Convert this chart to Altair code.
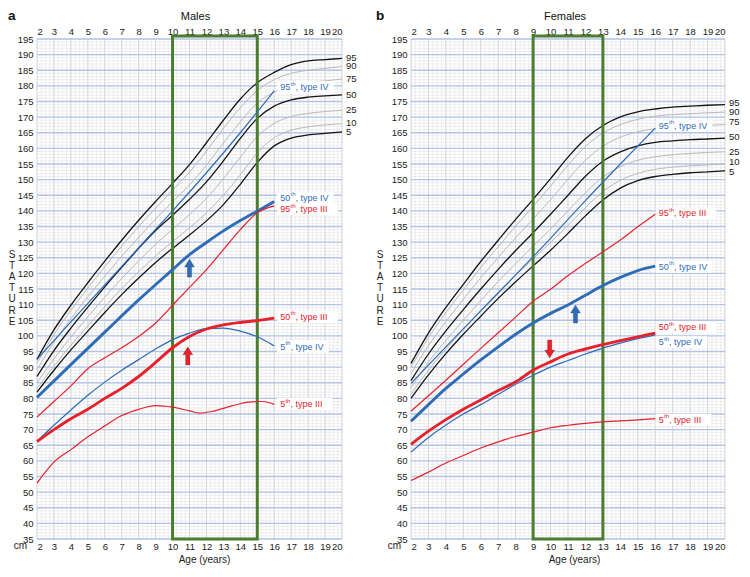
import altair as alt
import pandas as pd

FONT = "Liberation Sans"
BLUE = "#2f6cb8"
RED = "#e6212b"
GREEN = "#4b7d2e"

AGES = list(range(2, 21))
PCT_NAMES = ["5", "10", "25", "50", "75", "90", "95"]

# ---- Males: reference percentile curves (cm) at ages 2..20 ----
M_P5 = [82.0, 89.0, 95.5, 101.5, 107.5, 113.2, 118.5, 123.5, 128.0, 132.3, 136.8, 142.0, 148.5, 155.5, 160.8, 163.3, 164.3, 164.8, 165.3]
M_P10 = [83.2, 90.3, 97.0, 103.2, 109.3, 115.1, 120.5, 125.6, 130.2, 134.6, 139.4, 145.0, 151.5, 158.6, 163.4, 165.8, 166.9, 167.5, 167.9]
M_P25 = [85.0, 92.6, 99.6, 106.1, 112.4, 118.4, 124.0, 129.3, 134.1, 138.8, 144.0, 150.3, 157.2, 163.8, 168.0, 170.2, 171.2, 171.8, 172.2]
M_P50 = [87.0, 95.3, 102.5, 109.2, 115.7, 121.9, 128.0, 133.7, 138.6, 143.7, 149.3, 156.0, 163.2, 169.6, 173.5, 175.5, 176.4, 176.8, 177.1]
M_P75 = [89.2, 98.0, 105.5, 112.5, 119.1, 125.5, 131.5, 137.4, 142.9, 148.3, 154.6, 161.7, 168.5, 174.5, 178.0, 180.0, 181.0, 181.6, 182.2]
M_P90 = [91.2, 100.4, 108.2, 115.3, 122.1, 128.7, 135.0, 140.9, 146.6, 152.4, 159.1, 166.4, 173.0, 178.5, 182.0, 184.0, 185.0, 185.6, 186.2]
M_P95 = [92.5, 101.9, 109.8, 117.0, 123.9, 130.6, 137.0, 143.0, 148.8, 154.8, 161.8, 169.0, 175.8, 181.0, 184.3, 186.8, 188.0, 188.4, 188.8]

# ---- Females ----
F_P5 = [80.0, 87.5, 94.3, 100.5, 106.3, 112.0, 117.3, 122.4, 127.4, 132.8, 138.4, 143.5, 147.3, 149.7, 151.0, 151.7, 152.2, 152.5, 152.8]
F_P10 = [81.3, 89.0, 95.8, 102.1, 108.1, 114.0, 119.4, 124.7, 129.9, 135.4, 141.1, 146.2, 149.8, 152.0, 153.3, 154.0, 154.4, 154.7, 155.0]
F_P25 = [83.4, 91.6, 98.5, 105.0, 111.3, 117.4, 123.1, 128.7, 134.2, 140.0, 145.8, 150.8, 154.1, 156.2, 157.3, 158.0, 158.4, 158.7, 158.9]
F_P50 = [85.7, 94.2, 101.6, 108.4, 115.0, 121.3, 127.3, 133.0, 138.9, 145.0, 151.1, 155.9, 158.9, 160.8, 161.9, 162.4, 162.8, 163.0, 163.3]
F_P75 = [88.0, 96.9, 104.6, 111.7, 118.6, 125.1, 131.4, 137.4, 143.6, 150.1, 156.2, 160.7, 163.6, 165.3, 166.3, 166.9, 167.2, 167.4, 167.6]
F_P90 = [90.0, 99.4, 107.4, 114.7, 121.9, 128.6, 135.1, 141.4, 147.9, 154.6, 160.6, 164.9, 167.6, 169.3, 170.3, 170.8, 171.1, 171.4, 171.6]
F_P95 = [91.2, 100.9, 109.1, 116.5, 123.8, 130.6, 137.3, 143.7, 150.3, 157.2, 163.1, 167.3, 170.1, 171.7, 172.6, 173.2, 173.5, 173.8, 174.0]

# ---- Males: type III / type IV percentile curves ----
M95_IV_AGE = [2, 4, 6, 8, 10, 12, 14, 16]
M95_IV = [92.5, 104.5, 116.3, 128.2, 140.0, 152.2, 165.0, 178.4]
M50_IV_AGE = [2, 4, 6, 8, 10, 11, 12, 13, 14, 15, 16]
M50_IV = [80.3, 90.8, 101.2, 111.5, 121.2, 126.0, 129.9, 133.6, 136.9, 139.9, 143.0]
M_AGE_Y = [2, 3, 4, 5, 6, 7, 8, 9, 10, 11, 12, 13, 14, 15, 16]
M95_III = [74.0, 79.0, 84.0, 89.5, 93.0, 96.2, 99.8, 104.1, 109.8, 115.5, 121.2, 127.6, 134.0, 139.4, 141.6]
M50_III = [66.2, 70.0, 73.5, 76.5, 80.0, 83.2, 87.0, 91.5, 96.2, 99.8, 102.2, 103.5, 104.3, 104.9, 105.7]
M5_IV = [66.3, 71.4, 76.3, 81.0, 85.2, 89.0, 92.4, 95.8, 98.8, 100.9, 102.3, 102.5, 101.5, 99.7, 96.8]
M5_III_AGE = [2, 2.5, 3, 4, 5, 6, 7, 8, 9, 10, 11, 11.6, 12.3, 13.5, 14.5, 15.3, 16]
M5_III = [52.9, 56.5, 59.6, 63.6, 67.7, 71.2, 74.5, 76.5, 77.7, 77.2, 76.0, 75.3, 75.8, 77.6, 78.8, 79.0, 78.1]

# ---- Females: type III / type IV percentile curves ----
F95_IV_AGE = [2, 4, 6, 8, 10, 12, 14, 16]
F95_IV = [84.8, 96.5, 108.0, 119.5, 131.2, 143.3, 155.0, 166.5]
F_AGE_Y = [2, 3, 4, 5, 6, 7, 8, 9, 10, 11, 12, 13, 14, 15, 16]
F50_IV = [72.7, 78.0, 83.2, 87.8, 92.3, 96.5, 100.5, 104.1, 107.2, 109.9, 113.0, 116.1, 118.7, 120.9, 122.3]
F95_III_AGE = [2, 4, 6, 8, 9, 10, 11, 12, 13, 14, 15, 16]
F95_III = [75.9, 85.8, 96.0, 106.0, 111.1, 114.9, 119.3, 123.2, 126.9, 130.7, 134.9, 138.9]
F50_III = [65.3, 69.5, 73.2, 76.5, 79.5, 82.5, 85.3, 89.0, 91.7, 94.2, 95.8, 97.2, 98.5, 99.7, 100.9]
F5_IV = [62.8, 67.5, 71.5, 75.0, 78.0, 81.3, 84.5, 87.4, 90.0, 92.1, 94.2, 96.1, 97.7, 99.1, 100.3]
F5_III = [53.7, 56.4, 59.3, 61.7, 64.1, 66.1, 67.8, 69.2, 70.6, 71.4, 72.0, 72.5, 72.8, 73.1, 73.5]

# ---- curve labels ----
M_LAB_NUM = ["95", "50", "95", "50", "5", "5"]
M_LAB_TYPE = ["type IV", "type IV", "type III", "type III", "type IV", "type III"]
M_LAB_CM = [179.6, 144.2, 140.6, 106.1, 96.5, 78.2]
F_LAB_NUM = ["95", "95", "50", "50", "5", "5"]
F_LAB_TYPE = ["type IV", "type III", "type IV", "type III", "type IV", "type III"]
F_LAB_CM = [167.3, 139.2, 122.1, 102.7, 98.0, 73.2]

# ---- percentile names at the right edge (cm) ----
M_PCT_LAB_CM = [165.3, 168.0, 172.2, 177.1, 182.3, 186.3, 188.9]
F_PCT_LAB_CM = [152.4, 155.6, 159.0, 163.8, 168.5, 171.7, 174.4]

# ---- highlighted age windows ----
M_BOX = [10, 15]
F_BOX = [9, 13]

# ---- arrows (age, cm, type, direction) ----
M_ARROWS = [(11.0, 121.7, "type IV", "up"), (10.9, 93.6, "type III", "up")]
F_ARROWS = [(9.95, 95.8, "type III", "down"), (11.43, 107.0, "type IV", "up")]

ARROW_PATH = "M-0.24,1L-0.24,-0.12L-0.55,-0.12L0,-1L0.55,-0.12L0.24,-0.12L0.24,1Z"
CSCALE = alt.Scale(domain=["type III", "type IV"], range=[RED, BLUE])
FS = 9
AX_FS = 9.5


def pct_frame(pvals):
    rows = []
    for name, vals in zip(PCT_NAMES, pvals):
        for a, v in zip(AGES, vals):
            rows.append({"age": a, "cm": v, "pct": name, "main": name in ("5", "50", "95")})
    return pd.DataFrame(rows)


def type_frame(curves):
    rows = []
    for num, typ, ages, vals in curves:
        for a, v in zip(ages, vals):
            rows.append({"age": a, "cm": v, "curve": num + " " + typ, "typ": typ,
                         "w": "thick" if num == "50" else "thin"})
    return pd.DataFrame(rows)


def panel(title, title_dx, letter, letter_x, stat_x, pvals, pct_lab_cm, curves, lab_num, lab_type,
          lab_cm, lab_age, box, arrows, w, h, title_x):
    ppy = w / 18.0
    cmpp = 160.0 / h
    xs = alt.Scale(domain=[2, 20], nice=False, zero=False)
    ys = alt.Scale(domain=[35, 195], nice=False, zero=False)
    nx = alt.X("age:Q", scale=xs, axis=None)
    ny = alt.Y("cm:Q", scale=ys, axis=None)

    quarter = pd.DataFrame({"age": [2 + 0.25 * i for i in range(73)]})
    years = pd.DataFrame({"age": AGES})
    cm1 = pd.DataFrame({"cm": list(range(35, 196))})
    cm5 = pd.DataFrame({"cm": list(range(35, 196, 5))})

    layers = []
    layers.append(alt.Chart(quarter).mark_rule(color="#e4e4e4", strokeWidth=0.6).encode(
        x=alt.X("age:Q", scale=xs, axis=alt.Axis(orient="top", values=AGES, title=None, grid=False,
                                                  ticks=False, domain=False, labelPadding=3,
                                                  labelFontSize=AX_FS))))
    layers.append(alt.Chart(cm1).mark_rule(color="#e2e2e2", strokeWidth=0.6).encode(
        y=alt.Y("cm:Q", scale=ys, axis=alt.Axis(orient="left", values=list(range(35, 196, 5)), title=None,
                                                grid=False, ticks=False, domain=False, labelPadding=4,
                                                labelFontSize=AX_FS))))
    layers.append(alt.Chart(years).mark_rule(color="#cdd2da", strokeWidth=0.8).encode(
        x=alt.X("age:Q", scale=xs, axis=alt.Axis(orient="bottom", values=AGES, title="Age (years)",
                                                  grid=False, ticks=False, domain=False,
                                                  labelPadding=2, titlePadding=4, labelFontSize=AX_FS,
                                                  titleFontSize=10, titleFontWeight="normal",
                                                  titleX=title_x, titleAlign="center"))))
    layers.append(alt.Chart(cm5).mark_rule(color="#b3c4e6", strokeWidth=1.4).encode(y=ny))

    # percentile reference curves
    pdf = pct_frame(pvals)
    layers.append(alt.Chart(pdf[~pdf.main]).mark_line(color="#b9b9b9", strokeWidth=1.0,
                                                     interpolate="monotone").encode(
        x=nx, y=ny, detail="pct:N"))
    layers.append(alt.Chart(pdf[pdf.main]).mark_line(color="#141414", strokeWidth=1.3,
                                                    interpolate="monotone").encode(
        x=nx, y=ny, detail="pct:N"))

    # label backgrounds
    lab = pd.DataFrame({"num": lab_num, "typ": lab_type, "cm": lab_cm})
    lab["age"] = lab_age
    lab["rest"] = ", " + lab["typ"]
    lab["nd"] = lab["num"].str.len()
    lab["a0"] = lab["age"] - 3 / ppy
    lab["a1"] = lab["age"] + (lab["nd"] * 0.556 * FS + 5.5 + lab["rest"].str.len() * 3.9 + 3) / ppy
    lab["c0"] = lab["cm"] - 6 * cmpp
    lab["c1"] = lab["cm"] + 6 * cmpp
    layers.append(alt.Chart(lab).mark_rect(color="white").encode(
        x=alt.X("a0:Q", scale=xs, axis=None), x2="a1:Q",
        y=alt.Y("c0:Q", scale=ys, axis=None), y2="c1:Q"))

    # green window
    bx = pd.DataFrame({"a0": [box[0]], "a1": [box[1]], "c0": [35], "c1": [196]})
    layers.append(alt.Chart(bx).mark_rect(fillOpacity=0, stroke=GREEN, strokeWidth=3).encode(
        x=alt.X("a0:Q", scale=xs, axis=None), x2="a1:Q",
        y=alt.Y("c0:Q", scale=ys, axis=None), y2="c1:Q"))

    # type III / IV curves
    tdf = type_frame(curves)
    layers.append(alt.Chart(tdf).mark_line(interpolate="monotone").encode(
        x=nx, y=ny, detail="curve:N",
        color=alt.Color("typ:N", scale=CSCALE, legend=None),
        strokeWidth=alt.StrokeWidth("w:N", scale=alt.Scale(domain=["thin", "thick"], range=[1.2, 2.9]),
                                    legend=None)))

    # labels with superscript "th"
    for nd in (1, 2):
        sub = lab[lab.nd == nd]
        numw = nd * 0.556 * FS
        base = alt.Chart(sub).encode(x=nx, y=ny, color=alt.Color("typ:N", scale=CSCALE, legend=None))
        layers.append(base.mark_text(align="left", baseline="middle", fontSize=FS).encode(text="num:N"))
        layers.append(base.mark_text(align="left", baseline="middle", fontSize=6, dx=numw + 0.3,
                                     dy=-3.5).encode(text=alt.value("th")))
        layers.append(base.mark_text(align="left", baseline="middle", fontSize=FS,
                                     dx=numw + 5.4).encode(text="rest:N"))

    # arrows
    adf = pd.DataFrame(arrows, columns=["age", "cm", "typ", "dir"])
    for d, ang in (("up", 0), ("down", 180)):
        sub = adf[adf.dir == d]
        if len(sub):
            layers.append(alt.Chart(sub).mark_point(shape=ARROW_PATH, filled=True, size=330, angle=ang,
                                                    opacity=1, strokeWidth=0.6, stroke="#333333",
                                                    strokeOpacity=0.35).encode(
                x=nx, y=ny, fill=alt.Fill("typ:N", scale=CSCALE, legend=None)))

    # percentile names at right end
    pl = pd.DataFrame({"pct": PCT_NAMES, "cm": pct_lab_cm})
    pl["age"] = 20
    layers.append(alt.Chart(pl).mark_text(align="left", baseline="middle", dx=4, fontSize=9.5,
                                          color="#1a1a1a").encode(x=nx, y=ny, text="pct:N"))

    one = pd.DataFrame({"k": [0]})
    layers.append(alt.Chart(one).mark_text(text=title, fontSize=11, align="center",
                                           baseline="alphabetic", color="#111").encode(
        x=alt.value(w / 2 + title_dx), y=alt.value(-19)))
    layers.append(alt.Chart(one).mark_text(text=letter, fontSize=13.5, fontWeight="bold", align="left",
                                           baseline="alphabetic", color="#111").encode(
        x=alt.value(letter_x), y=alt.value(-19.5)))
    layers.append(alt.Chart(one).mark_text(text=list("STATURE"), fontSize=10, lineHeight=11.1,
                                           align="center", baseline="top", color="#222").encode(
        x=alt.value(stat_x), y=alt.value(211)))
    layers.append(alt.Chart(one).mark_text(text="cm", fontSize=AX_FS + 0.5, align="right",
                                           baseline="middle", color="#222").encode(
        x=alt.value(-10), y=alt.value(h + 7)))

    return alt.layer(*layers).resolve_axis(x="independent", y="independent").properties(
        width=w, height=h)


male_curves = [
    ("95", "type IV", M95_IV_AGE, M95_IV),
    ("50", "type IV", M50_IV_AGE, M50_IV),
    ("95", "type III", M_AGE_Y, M95_III),
    ("5", "type IV", M_AGE_Y, M5_IV),
    ("5", "type III", M5_III_AGE, M5_III),
    ("50", "type III", M_AGE_Y, M50_III),
]
female_curves = [
    ("95", "type IV", F95_IV_AGE, F95_IV),
    ("95", "type III", F95_III_AGE, F95_III),
    ("5", "type IV", F_AGE_Y, F5_IV),
    ("5", "type III", F_AGE_Y, F5_III),
    ("50", "type IV", F_AGE_Y, F50_IV),
    ("50", "type III", F_AGE_Y, F50_III),
]

H = 500
left = panel("Males", 6, "a", -29, -25,
             [M_P5, M_P10, M_P25, M_P50, M_P75, M_P90, M_P95], M_PCT_LAB_CM, male_curves,
             M_LAB_NUM, M_LAB_TYPE, M_LAB_CM, 16.35, M_BOX, M_ARROWS, 305, H, 167)
right = panel("Females", -3, "b", -35, -31,
              [F_P5, F_P10, F_P25, F_P50, F_P75, F_P90, F_P95], F_PCT_LAB_CM, female_curves,
              F_LAB_NUM, F_LAB_TYPE, F_LAB_CM, 16.2, F_BOX, F_ARROWS, 314, H, 163)

chart = alt.hconcat(left, right, spacing=69, bounds="flush", padding=0).configure_view(
    stroke=None
).configure_axis(
    labelFont=FONT, titleFont=FONT, labelColor="#222222", titleColor="#222222"
).configure_text(font=FONT)

chart.save("out.html", embed_options={"renderer": "svg", "actions": False})
